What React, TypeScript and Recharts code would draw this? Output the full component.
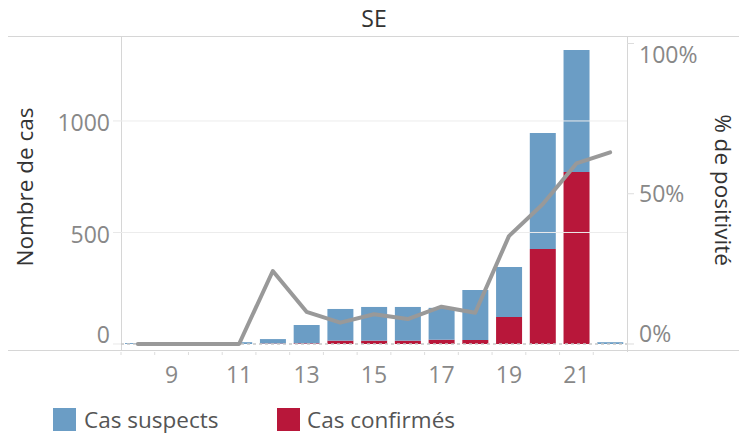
import React from 'react';
import { ComposedChart, Bar, Line, XAxis, YAxis, ReferenceLine } from 'recharts';

const weeks = [8, 9, 10, 11, 12, 13, 14, 15, 16, 17, 18, 19, 20, 21, 22];
const confirmed = [0, 0, 0, 0, 2, 3, 15, 15, 15, 19, 18, 121, 426, 771, 0];
const suspects = [4, 0, 0, 8, 20, 82, 142, 151, 151, 143, 224, 224, 520, 547, 8];
const positivity = [0, 0, 0, 0, 24.3, 10.7, 7.1, 9.9, 8.3, 12.4, 10.4, 35.9, 46.5, 60.1, 63.8];
const xTickLabels = [9, 11, 13, 15, 17, 19, 21];
const leftTicks = [0, 500, 1000];
const rightTicks = [0, 50, 100];

const BLUE = '#6b9dc5';
const RED = '#b8173a';
const LINE = '#999999';
const TICK = '#888888';
const FONT = '"Open Sans", sans-serif';

const data = weeks.map((w, i) => ({
  week: w,
  confirmed: confirmed[i],
  suspects: suspects[i],
  positivity: positivity[i],
}));

const LeftTick = (props: any) => {
  const { x, y, payload } = props;
  const dy = payload.value === 0 ? -0.5 : 10.5;
  return (
    <text x={x} y={y + dy} textAnchor="end" fill={TICK} fontSize={23} fontFamily={FONT}>
      {payload.value}
    </text>
  );
};

const RightTick = (props: any) => {
  const { x, y, payload } = props;
  const v = payload.value;
  const dy = v === 100 ? 19 : v === 0 ? -2 : 8.5;
  return (
    <text x={x} y={y + dy} textAnchor="start" fill={TICK} fontSize={23} fontFamily={FONT}>
      {v}%
    </text>
  );
};

const BottomTick = (props: any) => {
  const { x, y, payload } = props;
  const off = payload.offset || 0;
  const show = xTickLabels.includes(payload.value);
  return (
    <g>
      <line x1={x - off} x2={x - off} y1={y - 4} y2={y - 1} stroke="#dddddd" strokeWidth={1} />
      {show && (
        <text x={x} y={y + 27} textAnchor="middle" fill={TICK} fontSize={23} fontFamily={FONT}>
          {payload.value}
        </text>
      )}
    </g>
  );
};

export default function App() {
  return (
    <div style={{ position: 'absolute', left: 0, top: 0, width: 739, height: 434, background: '#fff' }}>
      <svg width={739} height={434} style={{ position: 'absolute', left: 0, top: 0 }}>
        <line x1={8} x2={739} y1={36.5} y2={36.5} stroke="#d6d6d6" strokeWidth={1} />
        <line x1={8} x2={739} y1={350.5} y2={350.5} stroke="#d6d6d6" strokeWidth={1} />
        <line x1={121.5} x2={121.5} y1={36} y2={351} stroke="#d6d6d6" strokeWidth={1} />
        <line x1={627.5} x2={627.5} y1={36} y2={352} stroke="#d6d6d6" strokeWidth={1} />
        <text x={374} y={27} textAnchor="middle" fill="#333" fontSize={23} fontFamily={FONT}>SE</text>
        <text transform="translate(33,187) rotate(-90)" textAnchor="middle" fill="#333" fontSize={22.5} fontFamily={FONT}>
          Nombre de cas
        </text>
        <text transform="translate(715,190) rotate(90)" textAnchor="middle" fill="#333" fontSize={22.5} fontFamily={FONT}>
          % de positivité
        </text>
        <rect x={53} y={408} width={23} height={23} fill={BLUE} />
        <text x={84} y={428} fill="#555" fontSize={22.5} fontFamily={FONT}>Cas suspects</text>
        <rect x={277} y={408} width={23} height={23} fill={RED} />
        <text x={307} y={428} fill="#555" fontSize={22.5} fontFamily={FONT}>Cas confirmés</text>
      </svg>
      <div style={{ position: 'absolute', left: 0, top: 0 }}>
        <ComposedChart width={739} height={434} data={data} margin={{ top: 36, right: 0, bottom: 0, left: 0 }}>
          <XAxis
            dataKey="week"
            type="category"
            interval={0}
            height={84}
            axisLine={false}
            tickLine={false}
            tickMargin={0}
            tick={<BottomTick />}
          />
          <YAxis
            yAxisId="left"
            orientation="left"
            width={121}
            domain={[-27, 1381]}
            ticks={leftTicks}
            axisLine={false}
            tickLine={{ stroke: '#e8e8e8' }}
            tickSize={8}
            tickMargin={3}
            tick={<LeftTick />}
            allowDataOverflow
          />
          <YAxis
            yAxisId="right"
            orientation="right"
            width={112}
            domain={[-2, 102.5]}
            ticks={rightTicks}
            axisLine={false}
            tickLine={{ stroke: '#dddddd' }}
            tickSize={7}
            tickMargin={5}
            tick={<RightTick />}
            allowDataOverflow
          />
          <ReferenceLine yAxisId="left" y={1000} stroke="#ececec" strokeWidth={1} />
          <ReferenceLine yAxisId="left" y={500} stroke="#ececec" strokeWidth={1} />
          <ReferenceLine yAxisId="left" y={0} stroke="#c8c8c8" strokeWidth={1.5} strokeDasharray="3 3" />
          <Bar yAxisId="left" dataKey="confirmed" stackId="a" fill={RED} barSize={26} isAnimationActive={false} />
          <Bar yAxisId="left" dataKey="suspects" stackId="a" fill={BLUE} barSize={26} isAnimationActive={false} />
          <Line
            yAxisId="right"
            type="linear"
            dataKey="positivity"
            stroke={LINE}
            strokeWidth={4}
            dot={false}
            activeDot={false}
            strokeLinecap="round"
            strokeLinejoin="round"
            isAnimationActive={false}
          />
        </ComposedChart>
      </div>
    </div>
  );
}
